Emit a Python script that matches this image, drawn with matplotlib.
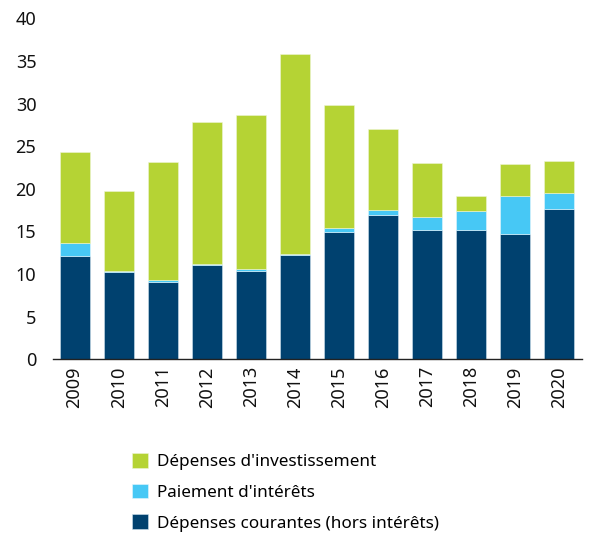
import matplotlib.pyplot as plt
import numpy as np

years = ["2009", "2010", "2011", "2012", "2013", "2014",
         "2015", "2016", "2017", "2018", "2019", "2020"]
courantes = [12.1, 10.2, 9.1, 11.1, 10.4, 12.2, 14.9, 16.9, 15.2, 15.2, 14.7, 17.6]
interets = [1.5, 0.2, 0.2, 0.1, 0.2, 0.15, 0.45, 0.6, 1.45, 2.15, 4.45, 1.85]
investissement = [10.7, 9.3, 13.8, 16.6, 18.1, 23.45, 14.5, 9.5, 6.35, 1.85, 3.7, 3.85]

plt.rcParams['font.family'] = ['Noto Sans', 'DejaVu Sans']


def main():
    fig = plt.figure(figsize=(5.89, 5.37), dpi=100)
    ax = fig.add_axes([0.09, 0.331, 0.898, 0.635])

    x = np.arange(len(years))
    c = np.array(courantes)
    i = np.array(interets)
    inv = np.array(investissement)
    w = 0.68
    b1 = ax.bar(x, c, w, color='#00416f', edgecolor='#cfe3ee', linewidth=0.4)
    b2 = ax.bar(x, i, w, bottom=c, color='#47c8f5', edgecolor='#e6f6fd', linewidth=0.4)
    b3 = ax.bar(x, inv, w, bottom=c + i, color='#b5d334', edgecolor='#eef6d5', linewidth=0.4)

    ax.set_xlim(-0.49, 11.51)
    ax.set_ylim(0, 40)
    ax.set_yticks(range(0, 41, 5))
    ax.set_xticks(x)
    ax.set_xticklabels(years, rotation=90)
    for s in ['top', 'right', 'left']:
        ax.spines[s].set_visible(False)
    ax.spines['bottom'].set_color('#222222')
    ax.spines['bottom'].set_linewidth(1.0)
    ax.tick_params(axis='y', length=0, labelsize=13, pad=12, colors='#111111')
    ax.tick_params(axis='x', length=0, labelsize=13, pad=5, colors='#111111')

    fig.legend([b3, b2, b1],
               ["Dépenses d'investissement", "Paiement d'intérêts",
                "Dépenses courantes (hors intérêts)"],
               loc='upper left', bbox_to_anchor=(0.21, 0.172), frameon=False,
               fontsize=12.3, handlelength=0.95, handleheight=0.95,
               handletextpad=0.5, labelspacing=0.78, borderpad=0)

    fig.savefig("out.png", dpi=100)


if __name__ == '__main__':
    main()
